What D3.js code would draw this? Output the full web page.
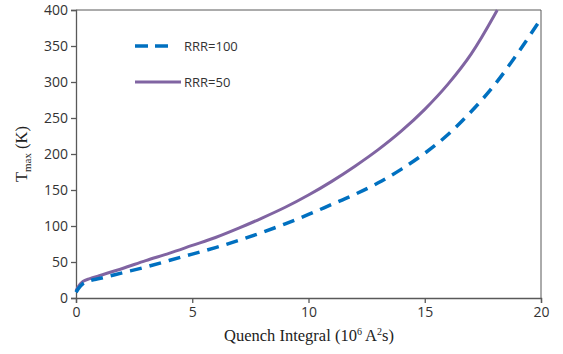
<!DOCTYPE html>
<html>
<head>
<meta charset="utf-8">
<script src="https://cdn.jsdelivr.net/npm/d3@7"></script>
<style>
  body { margin: 0; background: #fff; }
</style>
</head>
<body>
<svg id="chart"></svg>
<script>
// quench integral (10^6 A^2 s)
var xRRR50 = [0, 0.1, 0.3, 0.6, 1, 2, 3, 4, 5, 6, 7, 8, 9, 10, 11, 12, 13, 14, 15, 16, 17, 18, 18.12];
var tRRR50 = [10, 16, 23, 27, 31, 41, 52, 62, 73, 84, 97, 111, 126, 143, 162, 183, 206, 232, 262, 297, 339, 393, 400];
var xRRR100 = [0, 0.1, 0.3, 0.6, 1, 2, 3, 4, 5, 6, 7, 8, 9, 10, 11, 12, 13, 14, 15, 16, 17, 18, 19, 20];
var tRRR100 = [8, 13, 20, 24, 27, 35, 43, 52, 61, 70, 80, 91, 103, 116, 130, 144, 160, 179, 201, 227, 259, 296, 340, 388];
var xTicks = [0, 5, 10, 15, 20];
var yTicks = [0, 50, 100, 150, 200, 250, 300, 350, 400];
var seriesNames = ["RRR=100", "RRR=50"];

var width = 563, height = 354;
var margin = {left: 76, right: 22, top: 10, bottom: 56};

var svg = d3.select("#chart")
    .attr("width", width)
    .attr("height", height);

var x = d3.scaleLinear().domain([0, 20]).range([margin.left, width - margin.right]);
var y = d3.scaleLinear().domain([0, 400]).range([height - margin.bottom, margin.top]);

// frame (top + right)
svg.append("path")
    .attr("d", "M" + x(0) + "," + y(400) + "H" + x(20) + "V" + y(0))
    .attr("fill", "none")
    .attr("stroke", "#595959")
    .attr("stroke-width", 1);

var xAxis = svg.append("g")
    .attr("transform", "translate(0," + y(0) + ")")
    .call(d3.axisBottom(x).tickValues(xTicks).tickSize(5).tickPadding(4));
var yAxis = svg.append("g")
    .attr("transform", "translate(" + x(0) + ",0)")
    .call(d3.axisLeft(y).tickValues(yTicks).tickSize(5).tickPadding(3));

[xAxis, yAxis].forEach(function(ax) {
    ax.select(".domain").attr("stroke", "#595959").attr("stroke-width", 1.3);
    ax.selectAll(".tick line").attr("stroke", "#595959").attr("stroke-width", 1.3);
    ax.selectAll(".tick text")
        .attr("fill", "#333")
        .style("font-family", "'Open Sans', 'DejaVu Sans', sans-serif")
        .style("font-size", "14px");
});

var line = d3.line()
    .x(function(d) { return x(d[0]); })
    .y(function(d) { return y(d[1]); })
    .curve(d3.curveMonotoneX);

svg.append("path")
    .datum(d3.zip(xRRR50, tRRR50))
    .attr("d", line)
    .attr("fill", "none")
    .attr("stroke", "#8064A2")
    .attr("stroke-width", 3);

svg.append("path")
    .datum(d3.zip(xRRR100, tRRR100))
    .attr("d", line)
    .attr("fill", "none")
    .attr("stroke", "#0070C0")
    .attr("stroke-width", 3.5)
    .attr("stroke-dasharray", "12,8");

// legend
var legend = svg.append("g");
legend.append("line")
    .attr("x1", 135).attr("x2", 173).attr("y1", 46).attr("y2", 46)
    .attr("stroke", "#0070C0").attr("stroke-width", 3.5)
    .attr("stroke-dasharray", "13,7");
legend.append("line")
    .attr("x1", 135).attr("x2", 181).attr("y1", 82).attr("y2", 82)
    .attr("stroke", "#8064A2").attr("stroke-width", 3);
legend.selectAll("text")
    .data(seriesNames)
    .enter()
    .append("text")
    .attr("x", 184)
    .attr("y", function(d, i) { return 46 + i * 36 + 5; })
    .text(function(d) { return d; })
    .attr("fill", "#333")
    .style("font-family", "'Open Sans', 'DejaVu Sans', sans-serif")
    .style("font-size", "13px");

// axis titles
var serif = "'Liberation Serif', 'Times New Roman', serif";
var xt = svg.append("text")
    .attr("x", 309)
    .attr("y", 341)
    .attr("text-anchor", "middle")
    .style("font-family", serif)
    .style("font-size", "16.5px")
    .attr("fill", "#222");
xt.append("tspan").text("Quench Integral (10");
xt.append("tspan").text("6").attr("dy", -6).style("font-size", "10px");
xt.append("tspan").text(" A").attr("dy", 6);
xt.append("tspan").text("2").attr("dy", -6).style("font-size", "10px");
xt.append("tspan").text("s)").attr("dy", 6);

var yt = svg.append("text")
    .attr("transform", "translate(27," + y(200) + ") rotate(-90)")
    .attr("text-anchor", "middle")
    .style("font-family", serif)
    .style("font-size", "16.5px")
    .attr("fill", "#222");
yt.append("tspan").text("T");
yt.append("tspan").text("max").attr("dy", 4).style("font-size", "11px");
yt.append("tspan").text(" (K)").attr("dy", -4);
</script>
</body>
</html>
